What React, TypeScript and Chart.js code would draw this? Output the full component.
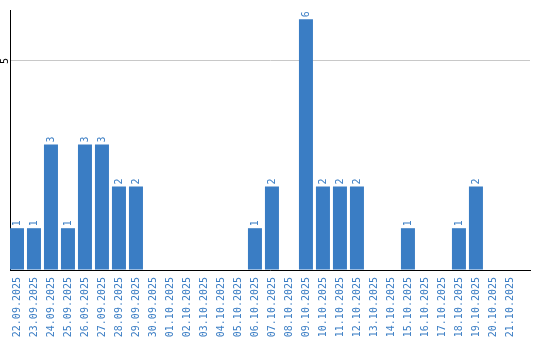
import React, { useEffect, useRef } from "react";
import { Chart, registerables } from "chart.js";

Chart.register(...registerables);

const categories = [
  "22.09.2025", "23.09.2025", "24.09.2025", "25.09.2025", "26.09.2025", "27.09.2025",
  "28.09.2025", "29.09.2025", "30.09.2025", "01.10.2025", "02.10.2025", "03.10.2025",
  "04.10.2025", "05.10.2025", "06.10.2025", "07.10.2025", "08.10.2025", "09.10.2025",
  "10.10.2025", "11.10.2025", "12.10.2025", "13.10.2025", "14.10.2025", "15.10.2025",
  "16.10.2025", "17.10.2025", "18.10.2025", "19.10.2025", "20.10.2025", "21.10.2025",
];
const values = [1, 1, 3, 1, 3, 3, 2, 2, 0, 0, 0, 0, 0, 0, 1, 2, 0, 6, 2, 2, 2, 0, 0, 1, 0, 0, 1, 2, 0, 0];
const yTickValues = [5];

const BLUE = "#3a7dc4";
const FONT = "'DejaVu Sans Mono', monospace";

export default function App() {
  const ref = useRef<HTMLCanvasElement | null>(null);

  useEffect(() => {
    document.body.style.margin = "0";
    const canvas = ref.current;
    if (!canvas) return;

    const valueLabels = {
      id: "valueLabels",
      afterDatasetsDraw(chart: any) {
        const ctx = chart.ctx;
        const meta = chart.getDatasetMeta(0);
        ctx.save();
        ctx.fillStyle = BLUE;
        ctx.font = `10px ${FONT}`;
        ctx.textAlign = "left";
        ctx.textBaseline = "middle";
        meta.data.forEach((bar: any, i: number) => {
          const v = values[i];
          if (!v) return;
          ctx.save();
          ctx.translate(bar.x, bar.y - 2);
          ctx.rotate(-Math.PI / 2);
          ctx.fillText(String(v), 0, 0);
          ctx.restore();
        });
        const ys = chart.scales.y;
        ctx.fillStyle = "#000";
        ctx.textAlign = "center";
        ctx.textBaseline = "middle";
        yTickValues.forEach((t) => {
          ctx.save();
          ctx.translate(ys.left + 5, ys.getPixelForValue(t));
          ctx.rotate(-Math.PI / 2);
          ctx.fillText(String(t), 0, 0);
          ctx.restore();
        });
        ctx.restore();
      },
    };

    const chart = new Chart(canvas, {
      type: "bar",
      data: {
        datasets: [
          {
            data: values.map((v, i) => ({ x: i, y: v })),
            backgroundColor: BLUE,
            borderWidth: 0,
            barPercentage: 1,
            categoryPercentage: 0.824,
          },
        ],
      },
      options: {
        animation: false,
        responsive: false,
        layout: { padding: { top: 10, right: 10, left: 0, bottom: 0 } },
        plugins: { legend: { display: false }, tooltip: { enabled: false } },
        scales: {
          x: {
            type: "linear",
            offset: false,
            min: -0.41,
            max: 30.18,
            grid: { display: false, drawTicks: false, offset: false },
            border: { display: true, color: "#000", width: 1 },
            afterFit: (s: any) => {
              s.height = 70;
              s.paddingLeft = 0;
              s.paddingRight = 0;
            },
            ticks: {
              stepSize: 1,
              includeBounds: false,
              autoSkip: false,
              minRotation: 90,
              maxRotation: 90,
              padding: 7,
              color: BLUE,
              font: { family: FONT, size: 10 },
              callback: (v: any) => categories[Number(v)] ?? "",
            },
          },
          y: {
            min: 0,
            max: 6.22,
            grid: { color: "#c8c8c8", drawTicks: false },
            border: { display: true, color: "#000", width: 1 },
            afterFit: (s: any) => {
              s.width = 10;
              s.paddingTop = 0;
              s.paddingBottom = 0;
            },
            ticks: {
              stepSize: 5,
              includeBounds: false,
              display: false,
            },
          },
        },
      },
      plugins: [valueLabels],
    });

    return () => chart.destroy();
  }, []);

  return (
    <div style={{ width: 540, height: 340, background: "#fff" }}>
      <canvas ref={ref} width={540} height={340} style={{ display: "block" }} />
    </div>
  );
}
